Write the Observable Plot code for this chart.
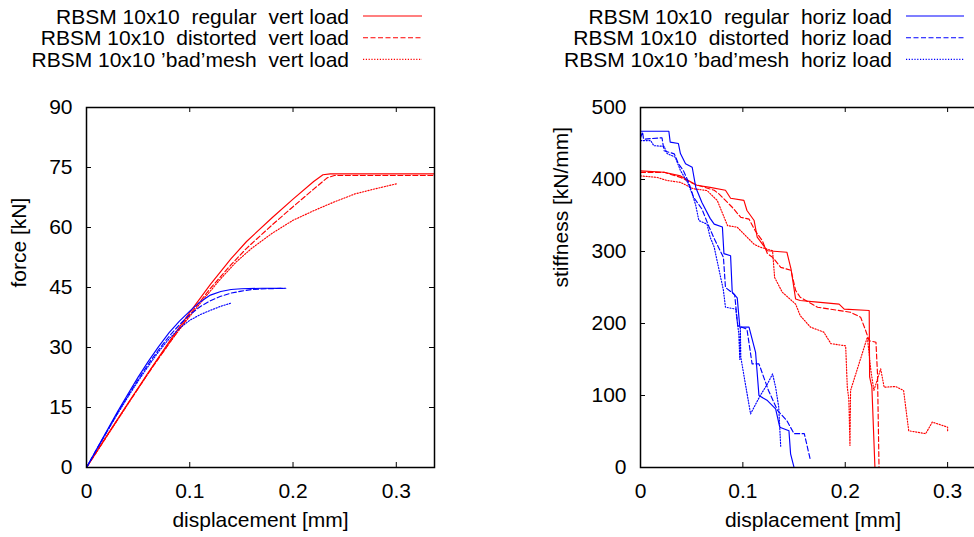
<!DOCTYPE html>
<html><head><meta charset="utf-8">
<script src="https://cdn.jsdelivr.net/npm/d3@7"></script>
<script src="https://cdn.jsdelivr.net/npm/@observablehq/plot@0.6"></script>
<style>
html,body{margin:0;padding:0;background:#fff;overflow:hidden;}
#root{position:relative;width:974px;height:537px;overflow:hidden;font-family:"Liberation Sans",Arial,sans-serif;}
#root > svg, #root > div{position:absolute;}
</style>
</head><body>
<div id="root"></div>
<script>
// ---------- data ----------
const xTicks = [0, 0.1, 0.2, 0.3];
const forceTicks = [0, 15, 30, 45, 60, 75, 90];
const stiffTicks = [0, 100, 200, 300, 400, 500];
const xLabel = "displacement [mm]";
const forceLabel = "force [kN]";
const stiffLabel = "stiffness [kN/mm]";

const legendVert = ["RBSM 10x10  regular  vert load", "RBSM 10x10  distorted  vert load", "RBSM 10x10 \u2019bad\u2019mesh  vert load"];
const legendHoriz = ["RBSM 10x10  regular  horiz load", "RBSM 10x10  distorted  horiz load", "RBSM 10x10 \u2019bad\u2019mesh  horiz load"];

// force [kN] vs displacement [mm]
const forceVertRegular = [[0,0],[0.02,8.1],[0.04,16.0],[0.06,23.8],[0.08,31.4],[0.1,38.8],[0.12,45.8],[0.14,52.2],[0.155,56.5],[0.18,62.5],[0.2,67.1],[0.22,71.5],[0.229,73.2],[0.236,73.4],[0.34,73.4]];
const forceVertDistorted = [[0,0],[0.02,8.0],[0.04,15.9],[0.06,23.6],[0.08,31.0],[0.1,38.2],[0.12,44.8],[0.14,50.7],[0.155,54.8],[0.18,60.7],[0.2,65.2],[0.22,69.6],[0.233,72.4],[0.24,73.0],[0.34,73.0]];
const forceVertBad = [[0,0],[0.02,7.9],[0.04,15.8],[0.065,25.6],[0.085,32.8],[0.1,37.8],[0.115,42.6],[0.13,47.2],[0.145,51.4],[0.16,54.8],[0.18,58.6],[0.2,61.8],[0.22,64.2],[0.24,66.4],[0.26,68.4],[0.28,69.7],[0.3,70.9]];
const forceHorizRegular = [[0,0],[0.01,4.7],[0.02,9.3],[0.03,13.9],[0.04,18.3],[0.05,22.6],[0.06,26.6],[0.07,30.3],[0.08,33.7],[0.09,36.6],[0.1,39.1],[0.11,41.4],[0.12,43.1],[0.13,44.0],[0.14,44.5],[0.15,44.7],[0.17,44.8],[0.19,44.8]];
const forceHorizDistorted = [[0,0],[0.01,4.6],[0.02,9.1],[0.03,13.6],[0.04,17.9],[0.05,22.0],[0.06,25.9],[0.07,29.5],[0.08,32.8],[0.09,35.7],[0.1,38.2],[0.11,40.2],[0.12,41.7],[0.13,42.8],[0.14,43.6],[0.15,44.1],[0.16,44.5],[0.175,44.7],[0.193,44.8]];
const forceHorizBad = [[0,0],[0.01,4.55],[0.02,9.0],[0.03,13.4],[0.04,17.6],[0.05,21.6],[0.06,25.4],[0.07,29.0],[0.08,32.2],[0.09,34.8],[0.1,36.8],[0.11,38.2],[0.12,39.3],[0.13,40.3],[0.14,41.1]];

// stiffness [kN/mm] vs displacement [mm]
const stiffVertRegular = [[0,412],[0.023,410],[0.039,405],[0.055,392],[0.068,389],[0.083,385],[0.088,374],[0.101,371],[0.104,357],[0.111,343],[0.114,320],[0.124,301],[0.143,299],[0.147,276],[0.1515,234],[0.156,232],[0.173,229.6],[0.194,227],[0.199,220],[0.2234,218],[0.2238,126],[0.226,112],[0.229,0],[0.34,0]];
const stiffVertDistorted = [[0,410],[0.023,410],[0.039,403],[0.052,394],[0.072,385],[0.0766,380],[0.0896,361.5],[0.0978,347.6],[0.106,345],[0.112,329],[0.119,315],[0.124,297],[0.129,292],[0.137,278],[0.147,274],[0.1515,246],[0.156,236.5],[0.173,222.6],[0.205,215.7],[0.215,208.8],[0.22,190],[0.2234,176],[0.23,174],[0.2315,130],[0.233,0],[0.34,0]];
const stiffVertBad = [[0,405],[0.016,403],[0.026,398.6],[0.039,396],[0.052,387],[0.065,384.7],[0.075,370.8],[0.085,336],[0.0945,333.7],[0.104,320],[0.111,310],[0.117,306],[0.129,301],[0.131,264],[0.1385,243.5],[0.1515,227],[0.156,211],[0.166,195],[0.179,188],[0.186,172],[0.2004,169],[0.202,111.5],[0.2035,95],[0.2046,30.5],[0.2052,107],[0.2216,181],[0.225,135],[0.228,107],[0.2346,137],[0.238,111.5],[0.249,112.5],[0.257,107],[0.262,51],[0.2786,47],[0.285,63],[0.3,56],[0.3,51]];
const stiffHorizRegular = [[0,467],[0.0277,467],[0.029,452],[0.037,450],[0.039,436],[0.044,422],[0.0505,417],[0.054,389],[0.06,368],[0.068,346],[0.072,338],[0.08,334],[0.0815,297],[0.088,294],[0.0896,243.5],[0.0945,235.6],[0.097,195],[0.106,195],[0.1124,160],[0.1157,100],[0.124,93],[0.132,81.5],[0.136,56],[0.145,51],[0.1466,19],[0.15,0],[0.19,0]];
const stiffHorizDistorted = [[0,458],[0.002,466],[0.003,456],[0.021,458],[0.023,440],[0.033,435.6],[0.037,422],[0.042,412],[0.047,396],[0.052,375],[0.06,359],[0.067,334],[0.072,318],[0.081,292],[0.083,250],[0.092,240],[0.095,197],[0.104,192],[0.109,144],[0.1157,144],[0.125,107],[0.134,79],[0.143,65],[0.15,47],[0.16,47],[0.166,10]];
const stiffHorizBad = [[0,454],[0.01,454],[0.013,447],[0.023,446],[0.026,436],[0.034,431],[0.039,412.5],[0.046,396],[0.0505,380],[0.054,364],[0.057,343],[0.065,338],[0.068,320],[0.072,306],[0.081,246],[0.083,222.6],[0.093,220],[0.096,186],[0.097,150],[0.0975,195],[0.098,153],[0.1075,74.5],[0.117,100],[0.124,116],[0.129,130],[0.132,111.5],[0.135,84],[0.137,28]];

// ---------- styles ----------
const RED = "#ff0000", BLUE = "#0000ff";
const DASH = {regular: null, distorted: "5,2.5", bad: "1.2,1.6"};
const FONT = "'Liberation Sans', Arial, Helvetica, sans-serif";
const FS = 21;
const INK = "#000";

const root = document.getElementById("root");

function panel({series, yMax, yTicks, yLabel, left, top, frameLeft, frameW, frameH, labelDx}) {
  const xMax = 0.337;
  const mR = 8, mT = 17, mB = 70;
  const tx = xMax * 5 / frameW, ty = yMax * 5 / frameH;
  const marks = [];
  for (const s of series) {
    marks.push(Plot.line(s.data, {x: d => d[0], y: d => d[1], stroke: s.color, strokeWidth: 1.15,
      strokeDasharray: DASH[s.kind], clip: true}));
  }
  marks.push(
    Plot.frame({stroke: "black", strokeWidth: 1.5}),
    Plot.ruleX(xTicks, {x: d => d, y1: 0, y2: ty, stroke: "black", strokeWidth: 1}),
    Plot.ruleX(xTicks, {x: d => d, y1: yMax - ty, y2: yMax, stroke: "black", strokeWidth: 1}),
    Plot.ruleY(yTicks, {y: d => d, x1: 0, x2: tx, stroke: "black", strokeWidth: 1}),
    Plot.ruleY(yTicks, {y: d => d, x1: xMax - tx, x2: xMax, stroke: "black", strokeWidth: 1}),
    Plot.axisX(xTicks, {tickSize: 0, tickPadding: 16, tickFormat: d => String(d), fontSize: FS, fill: INK, label: null}),
    Plot.axisY(yTicks, {tickSize: 0, tickPadding: 14, tickFormat: d => String(d), fontSize: FS, fill: INK, label: null}),
    Plot.text([xLabel], {text: d => d, frameAnchor: "bottom", dy: 59, fontSize: FS, fill: INK}),
    Plot.text([yLabel], {text: d => d, frameAnchor: "left", dx: labelDx, rotate: -90, fontSize: FS, fill: INK})
  );
  const svg = Plot.plot({
    width: frameLeft + frameW + mR,
    height: mT + frameH + mB,
    marginLeft: frameLeft, marginRight: mR, marginTop: mT, marginBottom: mB,
    x: {domain: [0, xMax]},
    y: {domain: [0, yMax]},
    style: {fontFamily: FONT, fontSize: FS + "px", background: "transparent", overflow: "visible", color: INK},
    marks
  });
  svg.style.left = left + "px";
  svg.style.top = top + "px";
  root.appendChild(svg);
}

panel({
  series: [
    {data: forceVertRegular, color: RED, kind: "regular"},
    {data: forceVertDistorted, color: RED, kind: "distorted"},
    {data: forceVertBad, color: RED, kind: "bad"},
    {data: forceHorizRegular, color: BLUE, kind: "regular"},
    {data: forceHorizDistorted, color: BLUE, kind: "distorted"},
    {data: forceHorizBad, color: BLUE, kind: "bad"}
  ],
  yMax: 90, yTicks: forceTicks, yLabel: forceLabel,
  left: 0, top: 90, frameLeft: 86, frameW: 348, frameH: 360, labelDx: -67
});

panel({
  series: [
    {data: stiffVertRegular, color: RED, kind: "regular"},
    {data: stiffVertDistorted, color: RED, kind: "distorted"},
    {data: stiffVertBad, color: RED, kind: "bad"},
    {data: stiffHorizRegular, color: BLUE, kind: "regular"},
    {data: stiffHorizDistorted, color: BLUE, kind: "distorted"},
    {data: stiffHorizBad, color: BLUE, kind: "bad"}
  ],
  yMax: 500, yTicks: stiffTicks, yLabel: stiffLabel,
  left: 550, top: 90, frameLeft: 90, frameW: 345, frameH: 360, labelDx: -79
});

// ---------- legends ----------
const NS = "http://www.w3.org/2000/svg";
const leg = document.createElementNS(NS, "svg");
leg.setAttribute("width", 974); leg.setAttribute("height", 80);
leg.style.left = "0px"; leg.style.top = "0px";
function legendBlock(labels, color, textRight, x1, x2) {
  const kinds = ["regular", "distorted", "bad"];
  labels.forEach((lab, i) => {
    const yc = 16 + i * 21.7;
    const t = document.createElementNS(NS, "text");
    t.setAttribute("x", textRight); t.setAttribute("y", yc + 7.5);
    t.setAttribute("text-anchor", "end");
    t.setAttribute("font-family", FONT); t.setAttribute("font-size", FS);
    t.setAttribute("fill", INK);
    t.setAttribute("xml:space", "preserve");
    t.style.whiteSpace = "pre";
    t.textContent = lab;
    leg.appendChild(t);
    const l = document.createElementNS(NS, "line");
    l.setAttribute("x1", x1); l.setAttribute("x2", x2);
    l.setAttribute("y1", yc); l.setAttribute("y2", yc);
    l.setAttribute("stroke", color); l.setAttribute("stroke-width", 1.15);
    if (DASH[kinds[i]]) l.setAttribute("stroke-dasharray", DASH[kinds[i]]);
    leg.appendChild(l);
  });
}
legendBlock(legendVert, RED, 349, 363, 422);
legendBlock(legendHoriz, BLUE, 892, 906, 964);
root.appendChild(leg);
</script>
</body></html>
